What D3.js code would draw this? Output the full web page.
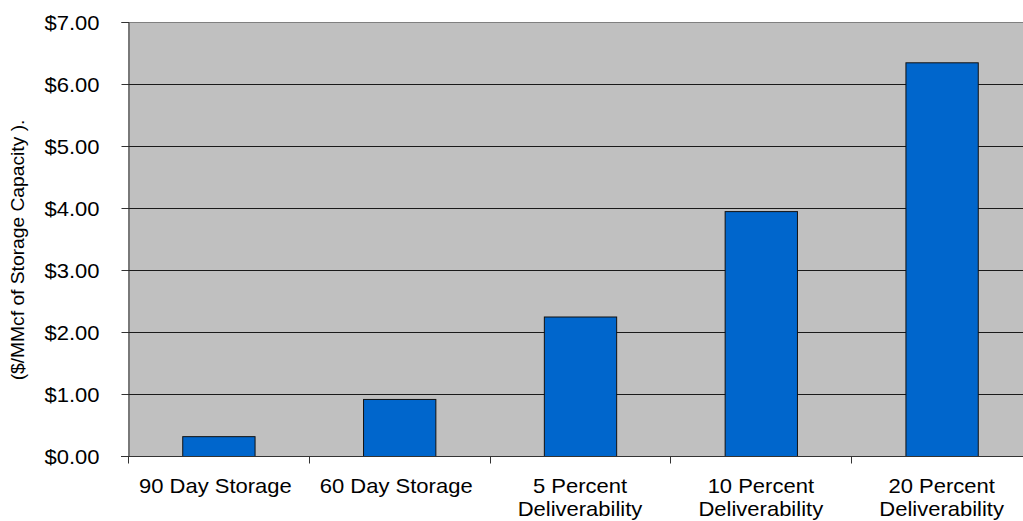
<!DOCTYPE html>
<html>
<head>
<meta charset="utf-8">
<script src="https://cdn.jsdelivr.net/npm/d3@7"></script>
<style>
  html, body { margin: 0; padding: 0; background: #fff; }
  svg { display: block; font-family: "Liberation Sans", Arial, sans-serif; }
</style>
</head>
<body>
<svg id="chart" width="1023" height="521"></svg>
<script>
// Storage cost categories and values ($/MMcf of storage capacity)
const categories = [
  ["90 Day Storage"],
  ["60 Day Storage"],
  ["5 Percent", "Deliverability"],
  ["10 Percent", "Deliverability"],
  ["20 Percent", "Deliverability"]
];
const values = [0.32, 0.92, 2.25, 3.95, 6.35];
const yTicks = [0, 1, 2, 3, 4, 5, 6, 7];
const yTitle = "($/MMcf of Storage Capacity ).";

(function () {
  const svg = d3.select("#chart");
  const plotLeft = 128, plotRight = 1032, plotTop = 22, plotBottom = 456;
  const stretch = 1.1;   // slightly widened lettering
  const fontSize = 20;

  const x = d3.scaleBand()
    .domain(d3.range(categories.length))
    .range([plotLeft, plotRight])
    .paddingInner(0.6)
    .paddingOuter(0.3);

  const y = d3.scaleLinear().domain([0, 7]).range([plotBottom, plotTop]);

  // plot area background
  svg.append("rect")
    .attr("x", plotLeft).attr("y", plotTop)
    .attr("width", plotRight - plotLeft).attr("height", plotBottom - plotTop)
    .attr("fill", "#C0C0C0");

  // horizontal gridlines
  svg.append("g").selectAll("line")
    .data(yTicks.filter(d => d > 0))
    .join("line")
    .attr("x1", plotLeft).attr("x2", plotRight)
    .attr("y1", d => y(d) + 0.5).attr("y2", d => y(d) + 0.5)
    .attr("stroke", d => d === 7 ? "#808080" : "#1a1a1a")
    .attr("stroke-width", 1);

  // bars
  svg.append("g").selectAll("rect")
    .data(values)
    .join("rect")
    .attr("x", (d, i) => x(i) + 0.5)
    .attr("y", d => y(d) + 0.5)
    .attr("width", x.bandwidth())
    .attr("height", d => y(0) - y(d))
    .attr("fill", "#0066CC")
    .attr("stroke", "#111")
    .attr("stroke-width", 1);

  // y axis
  const yAxis = d3.axisLeft(y)
    .tickValues(yTicks)
    .tickSize(7)
    .tickPadding(22)
    .tickFormat(d => "$" + d3.format(".2f")(d));
  const gy = svg.append("g")
    .attr("transform", `translate(${plotLeft + 0.5},0)`)
    .call(yAxis);
  gy.select(".domain").attr("stroke", "#333");
  gy.selectAll(".tick line").attr("stroke", "#333");
  gy.selectAll(".tick text")
    .attr("font-size", fontSize)
    .attr("fill", "#000")
    .attr("font-family", "Liberation Sans, Arial, sans-serif")
    .attr("x", -29 / stretch)
    .attr("dy", "0.36em")
    .attr("transform", `scale(${stretch},1)`);

  // x axis with ticks at category boundaries
  const xBound = d3.scaleLinear().domain([0, categories.length]).range([plotLeft, plotRight]);
  const gx = svg.append("g").attr("transform", `translate(0,${plotBottom + 0.5})`);
  gx.append("line")
    .attr("x1", plotLeft - 7).attr("x2", plotRight)
    .attr("stroke", "#333");
  gx.selectAll("line.tick")
    .data(d3.range(categories.length + 1))
    .join("line")
    .attr("class", "tick")
    .attr("x1", d => Math.round(xBound(d)) + 0.5)
    .attr("x2", d => Math.round(xBound(d)) + 0.5)
    .attr("y1", 0).attr("y2", 7)
    .attr("stroke", "#333");

  // category labels
  const labels = svg.append("g")
    .attr("font-size", fontSize)
    .attr("fill", "#000")
    .attr("text-anchor", "middle");
  categories.forEach((lines, i) => {
    const cx = x(i) + x.bandwidth() / 2 - (lines.length === 1 ? 3 : 0);
    lines.forEach((ln, j) => {
      labels.append("text")
        .attr("transform", `translate(${cx},${493 + j * 23}) scale(${stretch},1)`)
        .text(ln);
    });
  });

  // y axis title
  svg.append("text")
    .attr("transform", `translate(24,250) rotate(-90) scale(${stretch},1)`)
    .attr("text-anchor", "middle")
    .attr("font-size", 17.5)
    .attr("fill", "#000")
    .text(yTitle);
})();
</script>
</body>
</html>
